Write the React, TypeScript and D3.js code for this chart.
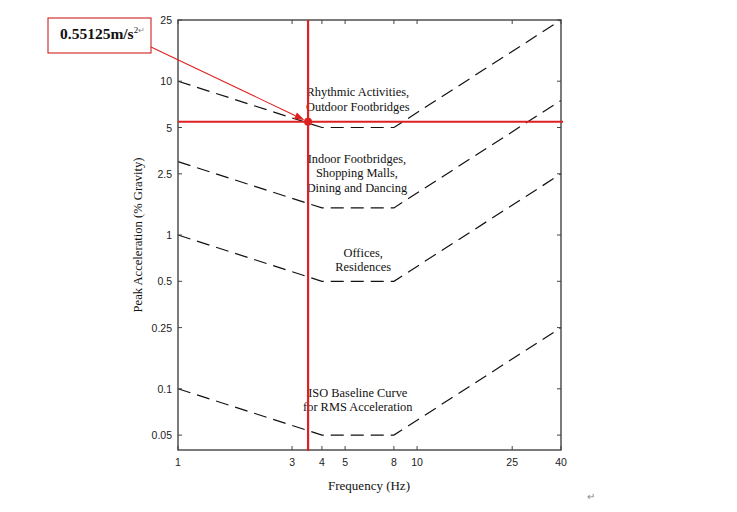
import React from "react";
import * as d3 from "d3";

const freqs = [1, 4, 8, 40];
const rhythmic = [10, 5, 5, 25];
const indoor = [3, 1.5, 1.5, 7.5];
const offices = [1, 0.5, 0.5, 2.5];
const isoBaseline = [0.1, 0.05, 0.05, 0.25];
const xTicks = [1, 3, 4, 5, 8, 10, 25, 40];
const yTicks = [25, 10, 5, 2.5, 1, 0.5, 0.25, 0.1, 0.05];
const redFreq = 3.5;
const redAccel = 5.45;
const annotationText = "0.55125m/s";

const labels = [
  { lines: ["Rhythmic Activities,", "Outdoor Footbridges"], f: 5.65, a: 8.0 },
  { lines: ["Indoor Footbridges,", "Shopping Malls,", "Dining and Dancing"], f: 5.6, a: 2.94 },
  { lines: ["Offices,", "Residences"], f: 5.95, a: 0.72 },
  { lines: ["ISO Baseline Curve", "for RMS Acceleration"], f: 5.65, a: 0.0885 },
];

export default function App() {
  const W = 737, H = 512;
  const x = d3.scaleLog().domain([1, 40]).range([178, 561]);
  const y = d3.scaleLog().domain([0.04, 25]).range([450, 20]);
  const line = d3.line<[number, number]>().x(d => x(d[0])).y(d => y(d[1]));
  const series = [rhythmic, indoor, offices, isoBaseline];
  const serif = "'Liberation Serif', 'Times New Roman', serif";
  const sans = "'Liberation Sans', Arial, sans-serif";
  const [x0, x1] = x.range();
  const [yb, yt] = y.range();
  const rx = x(redFreq), ry = y(redAccel);
  const boxX = 48, boxY = 18, boxW = 103, boxH = 35;
  const ax = boxX + boxW, ay = 47;
  const ang = Math.atan2(ry - ay, rx - ax);
  const tipX = rx - Math.cos(ang) * 4, tipY = ry - Math.sin(ang) * 4;
  const hl = 10, hw = 3.5;
  const bx = tipX - Math.cos(ang) * hl, by = tipY - Math.sin(ang) * hl;
  const px = -Math.sin(ang) * hw, py = Math.cos(ang) * hw;
  return (
    <div style={{ position: "absolute", left: 0, top: 0 }}>
      <svg width={W} height={H} style={{ display: "block", background: "#fff" }}>
        {series.map((s, i) => (
          <path key={i} d={line(freqs.map((f, j) => [f, s[j]] as [number, number])) || ""}
            fill="none" stroke="#111" strokeWidth={1.2} strokeDasharray="13,7" />
        ))}
        <rect x={x0} y={yt} width={x1 - x0} height={yb - yt} fill="none" stroke="#444" strokeWidth={1.4} />
        {xTicks.map(t => (
          <g key={"xt" + t}>
            <line x1={x(t)} x2={x(t)} y1={yb} y2={yb - 4} stroke="#444" />
            <line x1={x(t)} x2={x(t)} y1={yt} y2={yt + 4} stroke="#444" />
            <text x={x(t)} y={466} textAnchor="middle" fontFamily={sans} fontSize={10.5} fill="#222">{t}</text>
          </g>
        ))}
        {yTicks.map(t => (
          <g key={"yt" + t}>
            <line x1={x0} x2={x0 + 4} y1={y(t)} y2={y(t)} stroke="#444" />
            <line x1={x1} x2={x1 - 4} y1={y(t)} y2={y(t)} stroke="#444" />
            <text x={172} y={y(t) + 4} textAnchor="end" fontFamily={sans} fontSize={10.5} fill="#222">{t}</text>
          </g>
        ))}
        <text x={369} y={490} textAnchor="middle" fontFamily={serif} fontSize={13} fill="#111">Frequency (Hz)</text>
        <text transform={`translate(142,235) rotate(-90)`} textAnchor="middle" fontFamily={serif} fontSize={12.6} fill="#111">Peak Acceleration (% Gravity)</text>
        {labels.map((l, i) => (
          <text key={i} x={x(l.f)} y={y(l.a)} textAnchor="middle" fontFamily={serif} fontSize={12.4} fill="#111">
            {l.lines.map((s, j) => (
              <tspan key={j} x={x(l.f)} dy={j === 0 ? 0 : 14.5}>{s}</tspan>
            ))}
          </text>
        ))}
        <line x1={rx} x2={rx} y1={yt} y2={yb + 1} stroke="#e02020" strokeWidth={2.2} />
        <line x1={x0} x2={x1 + 2} y1={ry} y2={ry} stroke="#e02020" strokeWidth={2.2} />
        <circle cx={rx} cy={ry} r={4} fill="#e02020" />
        <line x1={ax} y1={ay} x2={bx} y2={by} stroke="#e02020" strokeWidth={1.1} />
        <path d={`M${tipX},${tipY} L${bx + px},${by + py} L${bx - px},${by - py} Z`} fill="#e02020" />
        <rect x={boxX} y={boxY} width={boxW} height={boxH} fill="#fff" stroke="#d02020" strokeWidth={1.1} />
        <text x={60} y={39} fontFamily={serif} fontSize={15.5} fontWeight="bold" fill="#111">
          {annotationText}
          <tspan fontSize={9} fontWeight="normal" dy={-6}>2</tspan>
          <tspan fontSize={8} fontWeight="normal" fill="#888">↵</tspan>
        </text>
        <text x={587} y={500} fontFamily={serif} fontSize={10} fill="#888">↵</text>
      </svg>
    </div>
  );
}
